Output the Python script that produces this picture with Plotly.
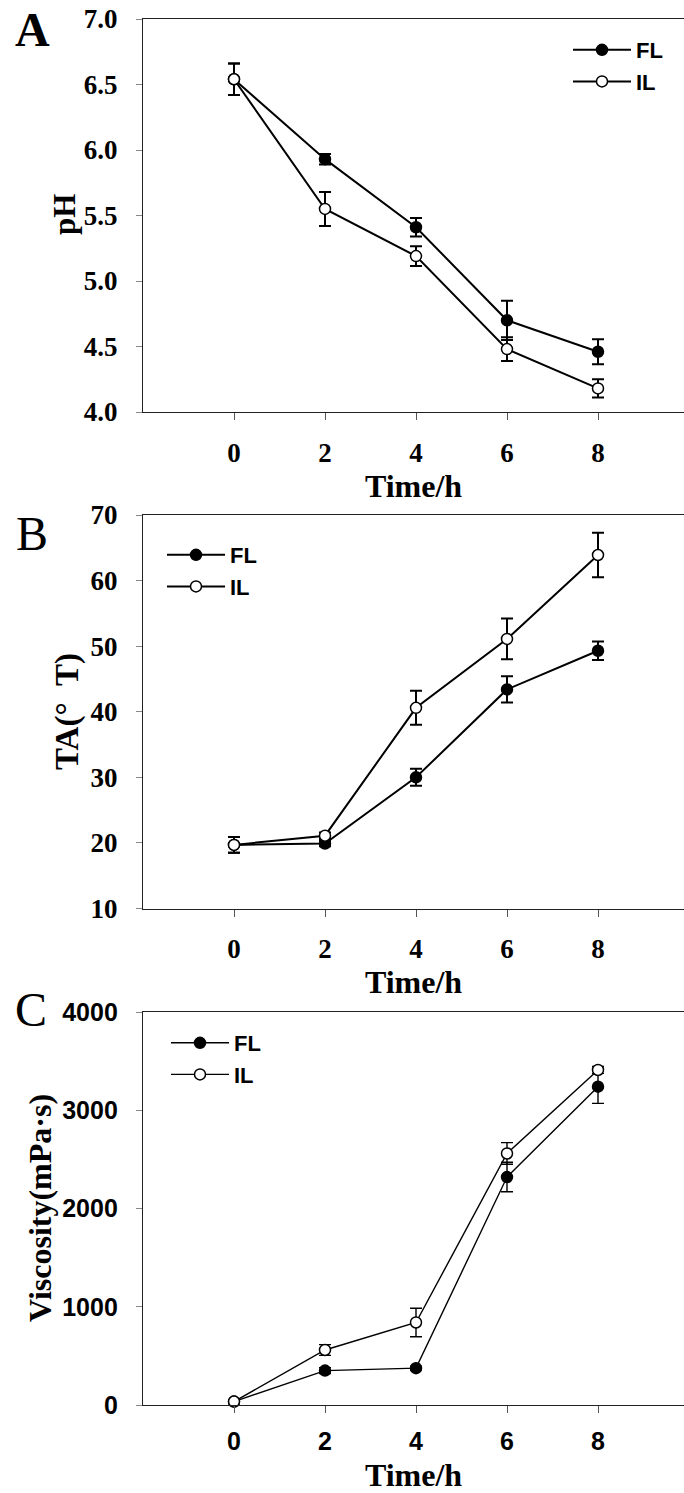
import plotly.graph_objects as go

# ---------------- data ----------------
time_h = [0, 2, 4, 6, 8]
x_ticks = [0, 2, 4, 6, 8]

ph_fl = [6.54, 5.93, 5.41, 4.70, 4.46]
ph_fl_err = [0.12, 0.04, 0.07, 0.15, 0.095]
ph_il = [6.54, 5.55, 5.19, 4.48, 4.18]
ph_il_err = [0.12, 0.13, 0.075, 0.09, 0.07]
ph_ticks = [4.0, 4.5, 5.0, 5.5, 6.0, 6.5, 7.0]

ta_fl = [19.7, 19.9, 30.0, 43.4, 49.3]
ta_fl_err = [1.2, 0.4, 1.3, 2.0, 1.4]
ta_il = [19.7, 21.1, 40.6, 51.1, 63.9]
ta_il_err = [1.2, 0.5, 2.6, 3.1, 3.4]
ta_ticks = [10, 20, 30, 40, 50, 60, 70]

vis_fl = [35, 350, 375, 2320, 3240]
vis_fl_err = [20, 30, 20, 150, 170]
vis_il = [35, 560, 840, 2560, 3410]
vis_il_err = [20, 55, 145, 110, 35]
vis_ticks = [0, 1000, 2000, 3000, 4000]

series_names = ["FL", "IL"]

# ---------------- layout geometry ----------------
W, H = 684, 1493
ML, MR, MT, MB = 143, 0, 19, 88
PW = W - ML - MR
PH = H - MT - MB


def px_x(px):
    return (px - ML) / PW


def px_y(py):
    return (H - MB - py) / PH


SERIF = "Liberation Serif, Times New Roman, serif"
SANS = "Liberation Sans, Arial, sans-serif"
AX = "#222222"

fig = go.Figure()

panels = [
    dict(y=(ph_fl, ph_fl_err, ph_il, ph_il_err), lw=2.0, leg="legend", ax=""),
    dict(y=(ta_fl, ta_fl_err, ta_il, ta_il_err), lw=2.0, leg="legend2", ax="2"),
    dict(y=(vis_fl, vis_fl_err, vis_il, vis_il_err), lw=1.4, leg="legend3", ax="3"),
]

for p in panels:
    fl, fle, il, ile = p["y"]
    for name, vals, errs, fill in [(series_names[0], fl, fle, "black"),
                                   (series_names[1], il, ile, "white")]:
        fig.add_trace(go.Scatter(
            x=time_h, y=vals, name=name, mode="lines+markers",
            xaxis="x" + p["ax"], yaxis="y" + p["ax"], legend=p["leg"],
            line=dict(color="black", width=p["lw"]),
            marker=dict(symbol="circle", size=11, color=fill,
                        line=dict(color="black", width=1.5)),
            error_y=dict(type="data", array=errs, visible=True,
                         color="black", thickness=p["lw"], width=6),
            cliponaxis=False,
        ))

domains = [(px_y(412), px_y(19)), (px_y(908.5), px_y(515)), (px_y(1405), px_y(1012))]

common_x = dict(range=[-2, 9.89], tickvals=x_ticks, showline=True, linecolor=AX,
                linewidth=1.3, mirror=True, ticks="outside", ticklen=7, tickwidth=1,
                tickcolor="#555", showgrid=False, zeroline=False, fixedrange=True,
                ticklabelstandoff=9)
common_y = dict(showline=True, linecolor=AX, linewidth=1.3, ticks="outside",
                ticklen=6, tickwidth=1, tickcolor="#888", showgrid=False,
                zeroline=False, ticklabelstandoff=13)

serif_tick = dict(family=SERIF, size=27, color="black", weight="bold")
sans_tick = dict(family=SANS, size=25, color="black", weight="bold")
title_font = dict(family=SERIF, size=32, color="black", weight="bold")

fig.update_layout(
    xaxis=dict(common_x, domain=[0, 1], anchor="y", tickfont=serif_tick,
               title=dict(text="Time/h", font=title_font, standoff=4)),
    yaxis=dict(common_y, domain=list(domains[0]), anchor="x", range=[4.0, 7.0],
               tickvals=ph_ticks, tickformat=".1f", tickfont=serif_tick),
    xaxis2=dict(common_x, domain=[0, 1], anchor="y2", tickfont=serif_tick,
                title=dict(text="Time/h", font=title_font, standoff=4)),
    yaxis2=dict(common_y, domain=list(domains[1]), anchor="x2", range=[10, 70],
                tickvals=ta_ticks, tickfont=serif_tick),
    xaxis3=dict(common_x, domain=[0, 1], anchor="y3", tickfont=sans_tick,
                ticklabelstandoff=7,
                title=dict(text="Time/h", font=title_font, standoff=9)),
    yaxis3=dict(common_y, domain=list(domains[2]), anchor="x3", range=[0, 4000],
                tickvals=vis_ticks, tickfont=sans_tick),
)

# y-axis titles (rotated text)
for txt, cx, cy, sz in [("pH", 64, 215, 31), ("TA(°\u00a0\u00a0T)", 67, 712, 33),
                        ("Viscosity(mPa·s)", 40, 1208, 32)]:
    fig.add_annotation(text=txt, xref="paper", yref="paper", x=px_x(cx), y=px_y(cy),
                       xanchor="center", yanchor="middle", showarrow=False, textangle=-90,
                       font=dict(title_font, size=sz))

leg_common = dict(font=dict(family=SANS, size=22, color="black", weight="bold"),
                  bgcolor="rgba(0,0,0,0)", borderwidth=0, xanchor="left",
                  yanchor="top", tracegroupgap=0, itemwidth=58)
fig.update_layout(
    legend=dict(leg_common, x=px_x(568), y=px_y(29)),
    legend2=dict(leg_common, x=px_x(162), y=px_y(534)),
    legend3=dict(leg_common, x=px_x(166), y=px_y(1022)),
)

for txt, cx, cy, wt in [("A", 32, 30, "bold"), ("B", 32, 533, "normal"), ("C", 31, 1009, "normal")]:
    fig.add_annotation(text=txt, xref="paper", yref="paper", x=px_x(cx), y=px_y(cy),
                       xanchor="center", yanchor="middle", showarrow=False,
                       font=dict(family=SERIF, size=48, color="black", weight=wt))

fig.update_layout(
    width=W, height=H, margin=dict(l=ML, r=MR, t=MT, b=MB, autoexpand=False),
    paper_bgcolor="white", plot_bgcolor="white", showlegend=True,
)

fig.write_html("out.html", config=dict(displayModeBar=False))
